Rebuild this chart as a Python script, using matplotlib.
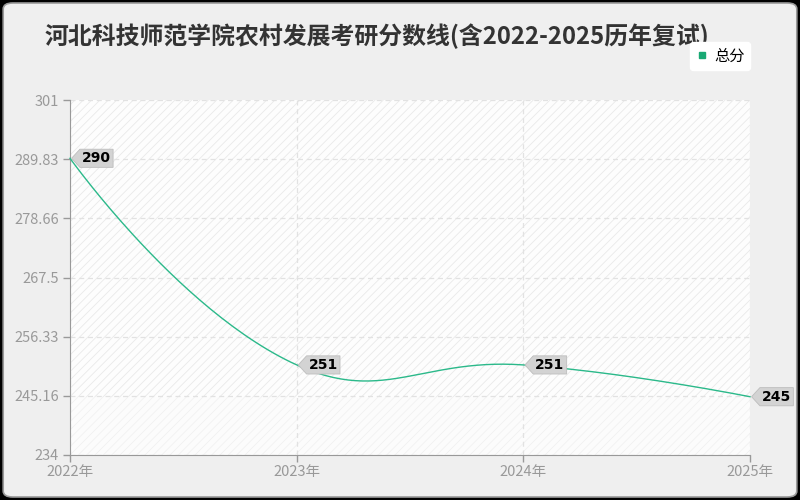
import matplotlib
matplotlib.use('Agg')
import matplotlib.pyplot as plt
import numpy as np
from matplotlib.patches import FancyBboxPatch
from matplotlib.path import Path
from matplotlib.lines import Line2D

plt.rcParams['font.family'] = ['Noto Sans CJK SC', 'DejaVu Sans']
plt.rcParams['hatch.linewidth'] = 0.6

title = '河北科技师范学院农村发展考研分数线(含2022-2025历年复试)'
years = ['2022年', '2023年', '2024年', '2025年']
scores = [290, 251, 251, 245]
yticks = [234, 245.16, 256.33, 267.5, 278.66, 289.83, 301]
ytick_labels = ['234', '245.16', '256.33', '267.5', '278.66', '289.83', '301']
series_name = '总分'
line_color = '#2bb98a'

fig = plt.figure(figsize=(8, 5), dpi=100, facecolor='black')
fig.patches.append(FancyBboxPatch((0.004, 0.006), 0.992, 0.988,
                                  boxstyle='round,pad=0,rounding_size=0.012',
                                  transform=fig.transFigure, facecolor='#efefef',
                                  edgecolor='#9a9a9a', linewidth=1.2, zorder=-10))

ax = fig.add_axes([0.0875, 0.09, 0.85, 0.71])
ax.set_facecolor('white')
ax.set_xlim(0, len(years) - 1)
ax.set_ylim(yticks[0], yticks[-1])

x = np.arange(len(years))

# hatched background: denser above the lowest score, fainter below
ax.fill_between([0, len(years) - 1], yticks[0], min(scores), facecolor='#fcfcfc',
                edgecolor='#f1f1f1', linewidth=0, hatch='////', zorder=0)
ax.fill_between([0, len(years) - 1], min(scores), yticks[-1], facecolor='#fdfdfd',
                edgecolor='#e9e9e9', linewidth=0, hatch='////', zorder=0)

ax.grid(True, color='#e2e2e2', linestyle=(0, (4, 3)), linewidth=0.9)
ax.set_axisbelow(True)
for s in ['top', 'right']:
    ax.spines[s].set_visible(False)
for s in ['left', 'bottom']:
    ax.spines[s].set_color('#999999')
ax.set_xticks(x)
ax.set_xticklabels(years)
ax.set_yticks(yticks)
ax.set_yticklabels(ytick_labels)
ax.tick_params(colors='#999999', labelcolor='#999999', labelsize=10.5, length=5, width=1)
ax.tick_params(axis='y', pad=3)
ax.tick_params(axis='x', pad=2)

# smooth line (cardinal bezier in display space)
fig.canvas.draw()
pts = ax.transData.transform(np.column_stack([x, scores]))
smooth = 0.45
cps_in, cps_out = [], []
for i, p in enumerate(pts):
    if i == 0 or i == len(pts) - 1:
        cps_in.append(p)
        cps_out.append(p)
        continue
    prev, nxt = pts[i - 1], pts[i + 1]
    v = (nxt - prev) * smooth
    d0 = np.hypot(*(p - prev))
    d1 = np.hypot(*(nxt - p))
    cps_in.append(p - v * d0 / (d0 + d1))
    cps_out.append(p + v * d1 / (d0 + d1))
t = np.linspace(0, 1, 60)
curve = []
for i in range(1, len(pts)):
    a, b, c, d = pts[i - 1], cps_out[i - 1], cps_in[i], pts[i]
    seg = ((1 - t) ** 3)[:, None] * a + (3 * (1 - t) ** 2 * t)[:, None] * b \
        + (3 * (1 - t) * t ** 2)[:, None] * c + (t ** 3)[:, None] * d
    curve.append(seg)
curve = ax.transData.inverted().transform(np.vstack(curve))
ax.plot(curve[:, 0], curve[:, 1], color=line_color, linewidth=1, clip_on=False, zorder=3)


def tag_box(x0, y0, width, height, mutation_size):
    pad = 0.15 * mutation_size
    x0, y0 = x0 - pad, y0 - pad
    x1, y1 = x0 + width + 2 * pad, y0 + height + 2 * pad
    tip = 0.6 * mutation_size
    ym = (y0 + y1) / 2
    return Path([(x0 - tip, ym), (x0, y1), (x1, y1), (x1, y0), (x0, y0), (x0 - tip, ym)],
                [Path.MOVETO, Path.LINETO, Path.LINETO, Path.LINETO, Path.LINETO, Path.CLOSEPOLY])


for xi, v in zip(x, scores):
    ax.annotate(str(v), (xi, v), xytext=(12, 0), textcoords='offset pixels',
                ha='left', va='center', fontsize=10, fontweight='bold', color='black',
                family=['DejaVu Sans'], annotation_clip=False, zorder=5,
                bbox=dict(boxstyle=tag_box, facecolor='#d3d3d3', edgecolor='#bdbdbd',
                          linewidth=0.6))

fig.text(0.056, 0.928, title, fontsize=17.2, fontweight='bold', color='#333333',
         ha='left', va='center')

handle = Line2D([], [], marker='s', linestyle='none', markersize=5,
                markerfacecolor='#19a974', markeredgecolor='#19a974')
fig.legend([handle], [series_name], loc='center', bbox_to_anchor=(0.9, 0.888),
           frameon=True, fancybox=True, facecolor='white', edgecolor='white',
           fontsize=11, handletextpad=0.4, handlelength=0.8, borderpad=0.35,
           framealpha=1)

fig.savefig('out.png', dpi=100, facecolor=fig.get_facecolor())
